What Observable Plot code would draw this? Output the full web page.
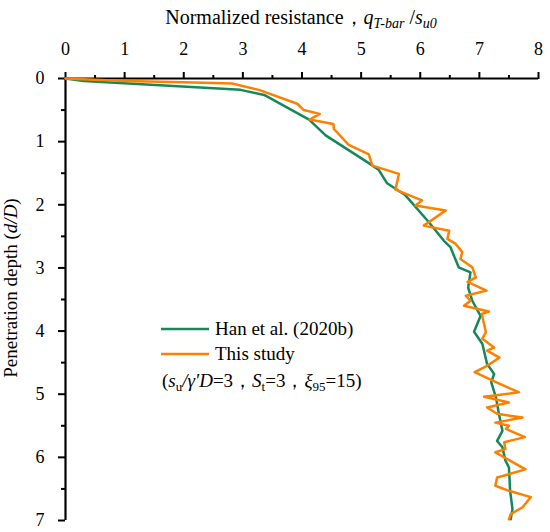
<!DOCTYPE html>
<html>
<head>
<meta charset="utf-8">
<script src="https://cdn.jsdelivr.net/npm/d3@7"></script>
<script src="https://cdn.jsdelivr.net/npm/@observablehq/plot@0.6"></script>
<style>
  html, body { margin: 0; padding: 0; background: white; }
  #chart svg { display: block; }
  #chart svg text { font-family: "Liberation Serif", Tinos, "Times New Roman", Times, "DejaVu Serif", "Noto Serif", serif !important; }
</style>
</head>
<body>
<div id="chart"></div>
<script>
// Han et al. (2020b): depth d/D and normalized resistance
const hanDepth = [0, 0.04, 0.18, 0.26, 0.65, 0.90, 1.34, 1.45, 1.66, 1.85, 2.28, 2.57, 2.67, 2.99, 3.07, 3.25, 3.31, 3.52, 3.76, 4.01, 4.20, 4.52, 4.68, 4.81, 5.05, 5.31, 5.58, 5.74, 5.84, 6.05, 6.16, 6.53, 6.82, 6.98];
const hanValue = [0, 0.31, 2.96, 3.36, 4.12, 4.40, 5.13, 5.30, 5.44, 5.75, 6.15, 6.40, 6.51, 6.65, 6.85, 6.82, 6.81, 6.88, 7.02, 6.91, 7.05, 7.13, 7.25, 7.20, 7.28, 7.33, 7.39, 7.30, 7.39, 7.44, 7.50, 7.52, 7.56, 7.53];

// This study
const thisDepth = [0, 0.02, 0.04, 0.06, 0.08, 0.18, 0.40, 0.50, 0.56, 0.65, 0.72, 0.80, 1.05, 1.20, 1.38, 1.51, 1.76, 1.93, 2.01, 2.09, 2.33, 2.41, 2.54, 2.62, 2.75, 2.86, 2.99, 3.15, 3.22, 3.36, 3.44, 3.52, 3.60, 3.69, 3.73, 4.02, 4.12, 4.26, 4.31, 4.42, 4.55, 4.65, 4.81, 4.97, 5.04, 5.13, 5.21, 5.31, 5.37, 5.45, 5.50, 5.55, 5.68, 5.76, 5.87, 5.92, 6.19, 6.32, 6.45, 6.53, 6.63, 6.79, 6.90, 6.98];
const thisValue = [0, 0.5, 1.0, 2.0, 2.82, 3.27, 3.92, 4.03, 4.30, 4.13, 4.53, 4.54, 4.79, 5.13, 5.19, 5.64, 5.58, 6.03, 5.92, 6.43, 6.06, 6.49, 6.46, 6.60, 6.71, 6.68, 6.88, 6.94, 6.80, 7.12, 6.77, 6.85, 6.74, 7.16, 7.04, 7.11, 7.05, 7.25, 7.13, 7.34, 7.13, 6.92, 7.28, 7.67, 7.08, 7.50, 7.13, 7.30, 7.73, 7.27, 7.50, 7.45, 7.77, 7.42, 7.44, 7.27, 7.78, 7.30, 7.27, 7.50, 7.87, 7.73, 7.53, 7.50];

const xMajor = [0, 1, 2, 3, 4, 5, 6, 7, 8];
const xMinor = [0.5, 1.5, 2.5, 3.5, 4.5, 5.5, 6.5, 7.5];
const yMajor = [0, 1, 2, 3, 4, 5, 6, 7];
const yMinor = [0.5, 1.5, 2.5, 3.5, 4.5, 5.5, 6.5];

const GREEN = "#15885a";
const ORANGE = "#ff8000";

const han = hanDepth.map((d, i) => ({d, v: hanValue[i]}));
const ours = thisDepth.map((d, i) => ({d, v: thisValue[i]}));

const serif = "'Liberation Serif', Tinos, 'Times New Roman', Times, 'DejaVu Serif', serif";

const chart = Plot.plot({
  width: 550,
  height: 532,
  marginLeft: 65,
  marginRight: 12,
  marginTop: 78,
  marginBottom: 12,
  style: {fontFamily: serif, fontSize: "18px", background: "white", color: "black"},
  x: {domain: [0, 8]},
  y: {domain: [0, 7], reverse: true},
  marks: [
    Plot.axisX({anchor: "top", ticks: xMinor, tickSize: 4, tickFormat: () => "", strokeWidth: 2, label: null}),
    Plot.axisX({anchor: "top", ticks: xMajor, tickSize: 7, tickPadding: 17, tickFormat: "d", strokeWidth: 2, label: null, fontSize: 18}),
    Plot.axisY({anchor: "left", ticks: yMinor, tickSize: 4, tickFormat: () => "", strokeWidth: 2, label: null}),
    Plot.axisY({anchor: "left", ticks: yMajor, tickSize: 7, tickPadding: 14, tickFormat: "d", strokeWidth: 2, label: null, fontSize: 18}),
    Plot.ruleY([0], {strokeWidth: 2.2}),
    Plot.ruleX([0], {strokeWidth: 2.2}),
    Plot.line(han, {x: "v", y: "d", stroke: GREEN, strokeWidth: 2.5}),
    Plot.line(ours, {x: "v", y: "d", stroke: ORANGE, strokeWidth: 2.5})
  ]
});

document.getElementById("chart").appendChild(chart);

const svg = d3.select(chart);

// Title (x axis label, top)
const t = svg.append("text").attr("x", 301).attr("y", 24).attr("text-anchor", "middle")
  .attr("font-size", 20).attr("fill", "black");
t.append("tspan").text("Normalized resistance，");
t.append("tspan").attr("font-style", "italic").text("q");
t.append("tspan").attr("font-style", "italic").attr("font-size", 14).attr("dy", 4).text("T-bar");
t.append("tspan").attr("dy", -4).text(" /");
t.append("tspan").attr("font-style", "italic").text("s");
t.append("tspan").attr("font-style", "italic").attr("font-size", 14).attr("dy", 4).text("u0");

// Y axis label
const yl = svg.append("text").attr("transform", "translate(17,288) rotate(-90)").attr("text-anchor", "middle")
  .attr("font-size", 19).attr("fill", "black");
yl.append("tspan").text("Penetration depth (");
yl.append("tspan").attr("font-style", "italic").text("d/D");
yl.append("tspan").text(")");

// Legend
const legend = [
  {label: "Han et al. (2020b)", color: GREEN, cy: 329},
  {label: "This study", color: ORANGE, cy: 354}
];
const lg = svg.append("g").attr("font-size", 19).attr("text-anchor", "start").attr("fill", "black");
legend.forEach(e => {
  lg.append("line").attr("x1", 161).attr("x2", 209).attr("y1", e.cy).attr("y2", e.cy)
    .attr("stroke", e.color).attr("stroke-width", 2.5);
  lg.append("text").attr("x", 215).attr("y", e.cy + 6).attr("text-anchor", "start").text(e.label);
});
const p = lg.append("text").attr("x", 162).attr("y", 387).attr("text-anchor", "start");
p.append("tspan").text("(");
p.append("tspan").attr("font-style", "italic").text("s");
p.append("tspan").attr("font-size", 13).attr("dy", 4).text("u");
p.append("tspan").attr("dy", -4).attr("font-style", "italic").text("/γ′D");
p.append("tspan").text("=3，");
p.append("tspan").attr("font-style", "italic").text("S");
p.append("tspan").attr("font-size", 13).attr("dy", 4).text("t");
p.append("tspan").attr("dy", -4).text("=3，");
p.append("tspan").attr("font-style", "italic").text("ξ");
p.append("tspan").attr("font-size", 13).attr("dy", 4).text("95");
p.append("tspan").attr("dy", -4).text("=15)");
</script>
</body>
</html>
